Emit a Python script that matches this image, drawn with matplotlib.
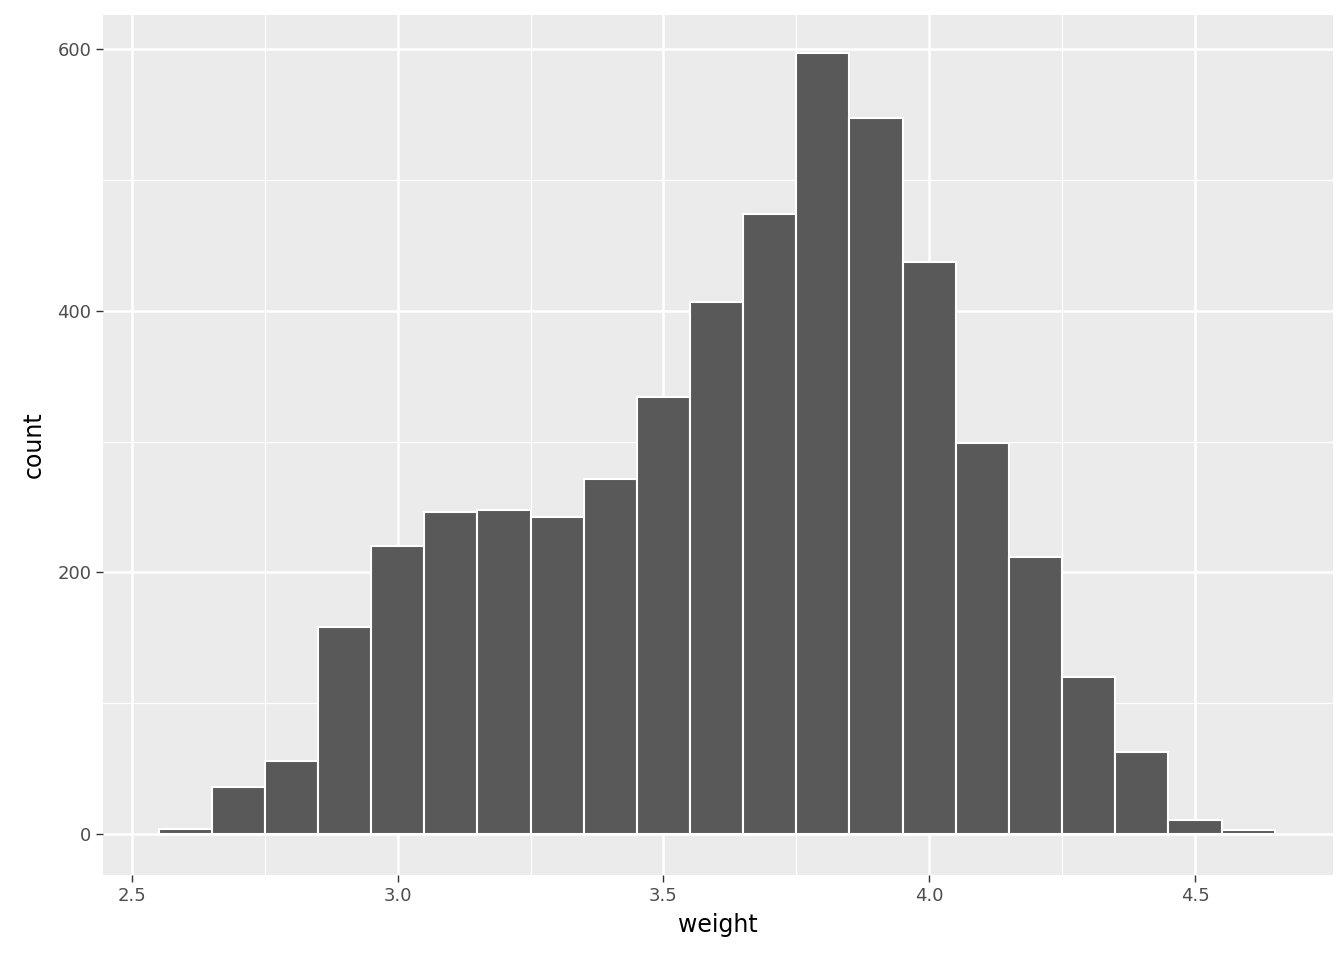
import matplotlib
matplotlib.use("Agg")
import matplotlib.pyplot as plt
import numpy as np

bin_centers = [2.6,2.7,2.8,2.9,3.0,3.1,3.2,3.3,3.4,3.5,3.6,3.7,3.8,3.9,4.0,4.1,4.2,4.3,4.4,4.5,4.6]
counts = [4,36,56,158,220,246,248,242,271,334,407,474,597,547,437,299,212,120,63,11,3]
x_ticks = [2.5,3.0,3.5,4.0,4.5]
x_tick_labels = ["2.5","3.0","3.5","4.0","4.5"]
y_ticks = [0,200,400,600]

fig = plt.figure(figsize=(13.44,9.6), dpi=100)
ax = fig.add_axes([103/1344, 1-875/960, (1333-103)/1344, (875-15)/960])
ax.set_facecolor("#EBEBEB")
ax.set_xlim(2.4455, 4.7597)
ax.set_ylim(-31.3, 626)
for x in np.arange(2.75, 4.7, 0.5):
    ax.axvline(x, color="white", lw=0.9, zorder=0)
for y in [100,300,500]:
    ax.axhline(y, color="white", lw=0.9, zorder=0)
for x in x_ticks:
    ax.axvline(x, color="white", lw=1.8, zorder=0)
for y in y_ticks:
    ax.axhline(y, color="white", lw=1.8, zorder=0)
ax.bar(bin_centers, counts, width=0.1, color="#595959", edgecolor="white", linewidth=1.5, zorder=2)
for s in ax.spines.values():
    s.set_visible(False)
ax.set_xticks(x_ticks)
ax.set_xticklabels(x_tick_labels)
ax.set_yticks(y_ticks)
ax.tick_params(colors="#333333", labelcolor="#4D4D4D", labelsize=13, length=5, width=1)
ax.set_xlabel("weight", fontsize=17, labelpad=6)
ax.set_ylabel("count", fontsize=17, labelpad=8)
fig.savefig("out.png", dpi=100)
